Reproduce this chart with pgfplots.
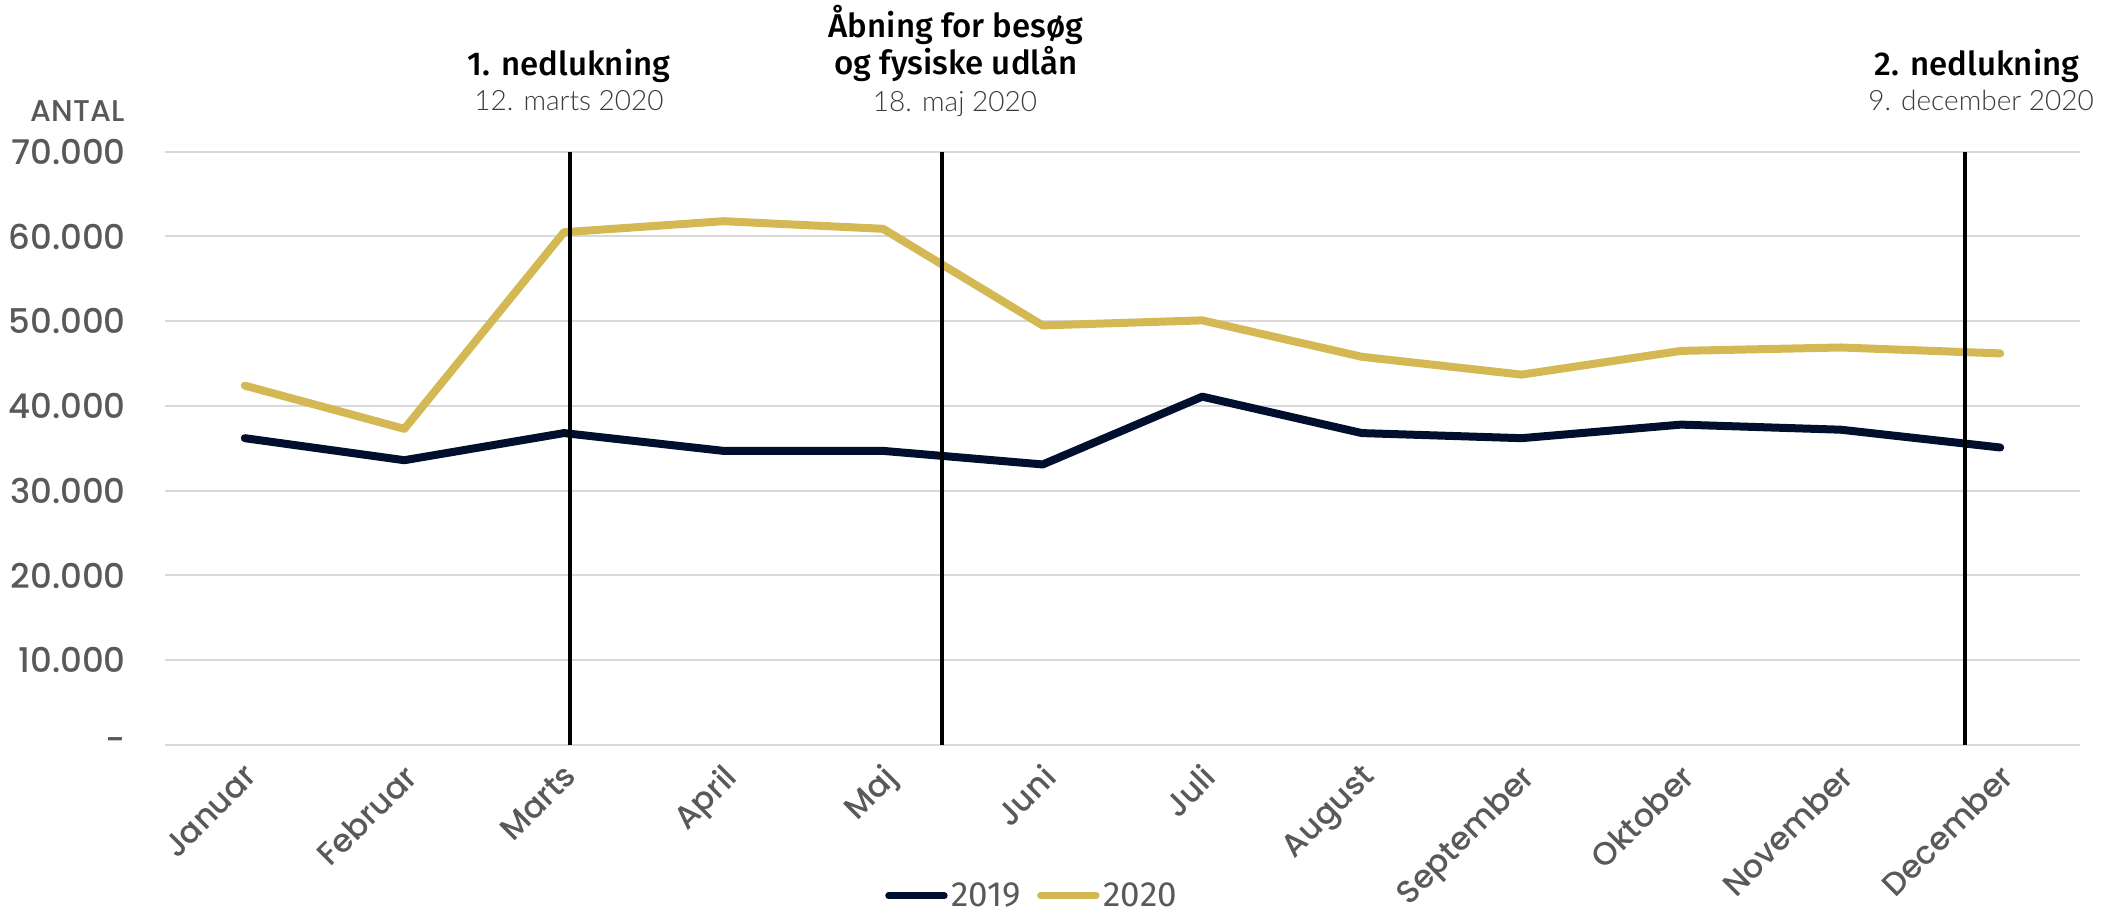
\documentclass[border=0pt]{standalone}
\usepackage{pgfplots}
\pgfplotsset{compat=1.18}
\usepackage{fontspec}
\setmainfont{Poppins}
\newfontfamily\tickf{Poppins Medium}
\newfontfamily\annot{Fira Sans Medium}
\newfontfamily\legf{Fira Sans}
\newfontfamily\thinf{Lato Light}
\definecolor{navy}{HTML}{000F2D}
\definecolor{gold}{HTML}{D3B853}
\definecolor{tickgray}{HTML}{595959}
\definecolor{gridgray}{HTML}{D9D9D9}
\definecolor{dategray}{HTML}{3A3A3A}
\begin{document}
\begin{tikzpicture}
\path[use as bounding box] (0,0) rectangle (1051.5pt,457.5pt);
\begin{axis}[
  at={(82.5pt,85pt)}, anchor=south west,
  width=957.5pt, height=296.65pt, scale only axis,
  xmin=-0.5, xmax=11.5, ymin=0, ymax=70000,
  scaled y ticks=false,
  axis line style={draw=none}, tick style={draw=none},
  ymajorgrids, grid style={gridgray, line width=1pt},
  ytick={0,10000,20000,30000,40000,50000,60000,70000},
  yticklabels={{-\hspace{7pt}},10.000,20.000,30.000,40.000,50.000,60.000,70.000},
  yticklabel style={anchor=east, inner sep=0pt, xshift=-19.5pt, text=tickgray, font=\tickf\fontsize{17pt}{20pt}\selectfont},
  xtick={0,1,2,3,4,5,6,7,8,9,10,11},
  xticklabels={Januar,Februar,Marts,April,Maj,Juni,Juli,August,September,Oktober,November,December},
  xticklabel style={inner sep=0pt, yshift=-8.5pt, xshift=-1pt, rotate=45, anchor=north east, text=tickgray, font=\tickf\fontsize{16pt}{20pt}\selectfont},
  clip=false,
  legend columns=2,
  legend style={at={(0.4533,-0.254)}, anchor=center, draw=none, fill=none,
    font=\legf\fontsize{17.5pt}{19pt}\selectfont, text=tickgray,
    /tikz/every even column/.append style={column sep=6pt}, inner sep=0pt},
  legend image code/.code={\draw[#1, line width=3.2pt, line cap=round] (0pt,0pt) -- (28pt,0pt);},
]
\addplot[navy, line width=4pt, line cap=round, line join=round] coordinates {
(0,36200) (1,33600) (2,36800) (3,34700) (4,34700) (5,33100) (6,41100) (7,36800) (8,36200) (9,37800) (10,37200) (11,35100)};
\addlegendentry{2019}
\addplot[gold, line width=4pt, line cap=round, line join=round] coordinates {
(0,42400) (1,37300) (2,60500) (3,61800) (4,60900) (5,49500) (6,50100) (7,45800) (8,43700) (9,46500) (10,46900) (11,46200)};
\addlegendentry{2020}
\addplot[black, line width=1.8pt, forget plot] coordinates {(2.036,0) (2.036,70000)};
\addplot[black, line width=1.8pt, forget plot] coordinates {(4.37,0) (4.37,70000)};
\addplot[black, line width=1.8pt, forget plot] coordinates {(10.78,0) (10.78,70000)};
\end{axis}
\node[anchor=base east, text=tickgray, inner sep=0pt, font=\tickf\fontsize{15pt}{17pt}\selectfont] at (62.5pt,396.5pt) {ANTAL};
\begin{scope}[every node/.style={inner sep=0pt}]
\node[anchor=base, font=\annot\fontsize{16.5pt}{18pt}\selectfont] at (284.5pt,419.5pt) {1. nedlukning};
\node[anchor=base, text=dategray, font=\thinf\fontsize{14pt}{16pt}\selectfont] at (284.5pt,402pt) {12. marts 2020};
\node[anchor=base, font=\annot\fontsize{16.5pt}{18pt}\selectfont] at (478pt,438.5pt) {Åbning for besøg};
\node[anchor=base, font=\annot\fontsize{16.5pt}{18pt}\selectfont] at (478pt,420pt) {og fysiske udlån};
\node[anchor=base, text=dategray, font=\thinf\fontsize{14pt}{16pt}\selectfont] at (477.5pt,401.65pt) {18. maj 2020};
\node[anchor=base, font=\annot\fontsize{16.5pt}{18pt}\selectfont] at (988.5pt,419.5pt) {2. nedlukning};
\node[anchor=base, text=dategray, font=\thinf\fontsize{14pt}{16pt}\selectfont] at (990.5pt,402pt) {9. december 2020};
\end{scope}
\end{tikzpicture}
\end{document}
